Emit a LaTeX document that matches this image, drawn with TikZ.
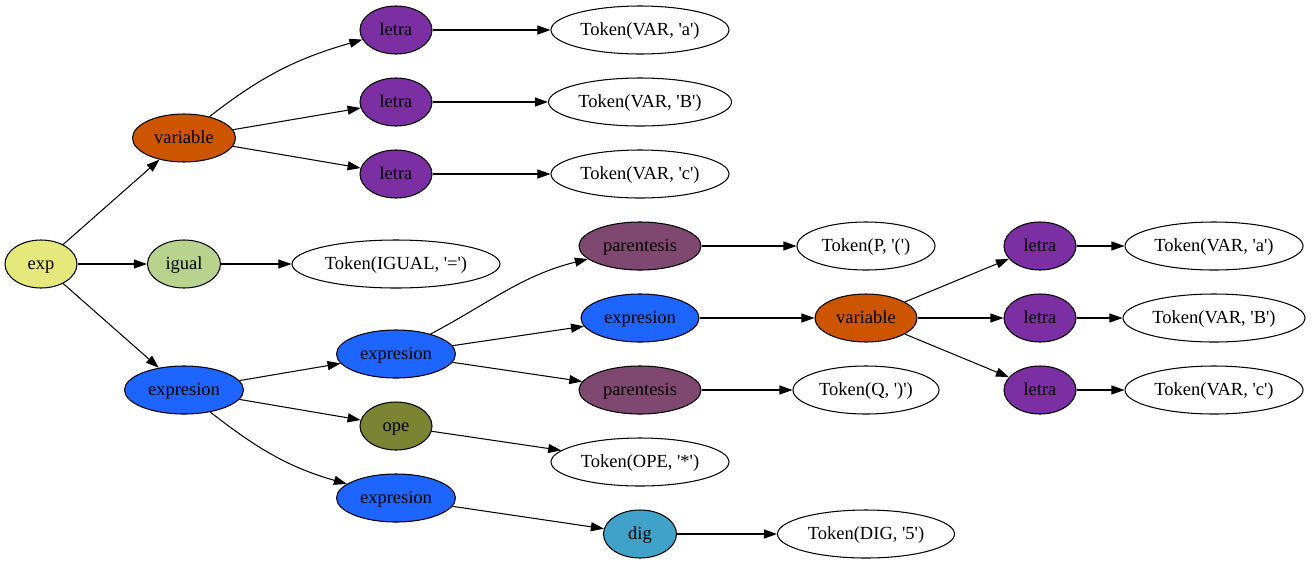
\documentclass[tikz,border=0pt]{standalone}
\usepackage{fontspec}
\setmainfont{Liberation Serif}[Ligatures=TeXOff]
\usetikzlibrary{shapes.geometric,arrows.meta}
\definecolor{cexp}{RGB}{229,232,122}
\definecolor{cigual}{RGB}{183,211,142}
\definecolor{cvar}{RGB}{205,85,0}
\definecolor{cletra}{RGB}{123,47,163}
\definecolor{cexpr}{RGB}{30,100,255}
\definecolor{cpar}{RGB}{126,72,112}
\definecolor{cope}{RGB}{122,132,51}
\definecolor{cdig}{RGB}{64,162,200}
\tikzset{
  gv/.style={ellipse,draw,line width=1.05pt,inner sep=0pt,minimum height=48pt,
    text height=13pt,text depth=2.6pt,
    font=\fontsize{18.5}{20}\selectfont},
  tok/.style={gv,fill=white},
  edge/.style={line width=1.05pt,-{Triangle[length=13pt,width=9pt]}},
}
\begin{document}
\begin{tikzpicture}[x=1pt,y=-1pt]
\useasboundingbox (0,0) rectangle (1313,563);
% column 1
\node[gv,fill=cexp,minimum width=72pt] (exp) at (41,264) {exp};
% column 2
\node[gv,fill=cvar,minimum width=103pt] (var1) at (184,138) {variable};
\node[gv,fill=cigual,minimum width=73pt] (igual) at (184,264) {igual};
\node[gv,fill=cexpr,minimum width=119pt] (expr1) at (184,390) {expresion};
% column 3
\node[gv,fill=cletra,minimum width=72pt] (l1) at (396,30) {letra};
\node[gv,fill=cletra,minimum width=72pt] (l2) at (396,102) {letra};
\node[gv,fill=cletra,minimum width=72pt] (l3) at (396,174) {letra};
\node[tok,minimum width=208pt] (tigual) at (396,264) {Token(IGUAL, '=')};
\node[gv,fill=cexpr,minimum width=119pt] (expr2) at (396,354) {expresion};
\node[gv,fill=cope,minimum width=72pt] (ope) at (396,426) {ope};
\node[gv,fill=cexpr,minimum width=119pt] (expr3) at (396,498) {expresion};
% column 4
\node[tok,minimum width=178pt] (ta1) at (640,30) {Token(VAR, 'a')};
\node[tok,minimum width=183pt] (tb1) at (640,102) {Token(VAR, 'B')};
\node[tok,minimum width=178pt] (tc1) at (640,174) {Token(VAR, 'c')};
\node[gv,fill=cpar,minimum width=122pt] (par1) at (640,246) {parentesis};
\node[gv,fill=cexpr,minimum width=118pt] (expr4) at (640,318) {expresion};
\node[gv,fill=cpar,minimum width=122pt] (par2) at (640,390) {parentesis};
\node[tok,minimum width=178pt] (tope) at (640,462) {Token(OPE, '*')};
\node[gv,fill=cdig,minimum width=73pt] (dig) at (640,534) {dig};
% column 5
\node[tok,minimum width=138pt] (tp) at (866,246) {Token(P, '(')};
\node[gv,fill=cvar,minimum width=102pt] (var2) at (866,318) {variable};
\node[tok,minimum width=146pt] (tq) at (866,390) {Token(Q, ')')};
\node[tok,minimum width=177pt] (tdig) at (866,534) {Token(DIG, '5')};
% column 6
\node[gv,fill=cletra,minimum width=72pt] (l4) at (1040,246) {letra};
\node[gv,fill=cletra,minimum width=72pt] (l5) at (1040,318) {letra};
\node[gv,fill=cletra,minimum width=72pt] (l6) at (1040,390) {letra};
% column 7
\node[tok,minimum width=178pt] (ta2) at (1214,246) {Token(VAR, 'a')};
\node[tok,minimum width=182pt] (tb2) at (1214,318) {Token(VAR, 'B')};
\node[tok,minimum width=178pt] (tc2) at (1214,390) {Token(VAR, 'c')};
% edges
\draw[edge] (exp) -- (var1);
\draw[edge] (exp) -- (igual);
\draw[edge] (exp) -- (expr1);
\draw[edge] (var1.40) to[out=38,in=196] (l1.196);
\draw[edge] (var1) -- (l2);
\draw[edge] (var1) -- (l3);
\draw[edge] (l1) -- (ta1);
\draw[edge] (l2) -- (tb1);
\draw[edge] (l3) -- (tc1);
\draw[edge] (igual) -- (tigual);
\draw[edge] (expr1) -- (expr2);
\draw[edge] (expr1) -- (ope);
\draw[edge] (expr1.-40) to[out=-38,in=164] (expr3.164);
\draw[edge] (expr2.30) to[out=28,in=194] (par1.194);
\draw[edge] (expr2) -- (expr4);
\draw[edge] (expr2) -- (par2);
\draw[edge] (ope) -- (tope);
\draw[edge] (expr3) -- (dig);
\draw[edge] (par1) -- (tp);
\draw[edge] (expr4) -- (var2);
\draw[edge] (par2) -- (tq);
\draw[edge] (dig) -- (tdig);
\draw[edge] (var2) -- (l4);
\draw[edge] (var2) -- (l5);
\draw[edge] (var2) -- (l6);
\draw[edge] (l4) -- (ta2);
\draw[edge] (l5) -- (tb2);
\draw[edge] (l6) -- (tc2);
\end{tikzpicture}
\end{document}
